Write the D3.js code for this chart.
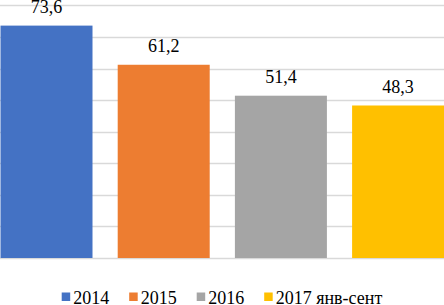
<!DOCTYPE html>
<html>
<head>
<meta charset="utf-8">
<script src="https://cdn.jsdelivr.net/npm/d3@7"></script>
<style>
  html, body { margin: 0; padding: 0; background: #fff; }
  svg { display: block; }
</style>
</head>
<body>
<div class="container"></div>
<script>
const WIDTH = 444;
const HEIGHT = 305;
const FONT = "'Liberation Serif', 'Times New Roman', serif";

// data
const categories = ["2014", "2015", "2016", "2017 янв-сент"];
const values = [73.6, 61.2, 51.4, 48.3];
const labels = ["73,6", "61,2", "51,4", "48,3"];
const gridTicks = [0, 10, 20, 30, 40, 50, 60, 70, 80];

const colors = ["#4472C4", "#ED7D31", "#A5A5A5", "#FFC000"];

const xScale = d3.scaleBand()
    .domain(categories)
    .range([-12.1, 456.7])
    .paddingInner(0.215)
    .paddingOuter(0.1075);

const yScale = d3.scaleLinear()
    .domain([0, 80])
    .range([258, 5.4]);

const svg = d3.select(".container").append("svg")
    .attr("width", WIDTH)
    .attr("height", HEIGHT);

// gridlines
svg.append("g").selectAll("line")
    .data(gridTicks)
    .enter()
    .append("line")
    .attr("x1", 0)
    .attr("x2", WIDTH)
    .attr("y1", d => Math.round(yScale(d)) + 0.5)
    .attr("y2", d => Math.round(yScale(d)) + 0.5)
    .attr("stroke", "#D9D9D9")
    .attr("stroke-width", 1.3);

// bars
svg.append("g").selectAll("rect")
    .data(categories)
    .enter()
    .append("rect")
    .attr("x", d => xScale(d))
    .attr("width", xScale.bandwidth())
    .attr("y", (d, i) => yScale(values[i]))
    .attr("height", (d, i) => yScale(0) - yScale(values[i]))
    .attr("fill", (d, i) => colors[i]);

// value labels
svg.append("g").selectAll("text")
    .data(categories)
    .enter()
    .append("text")
    .attr("x", d => xScale(d) + xScale.bandwidth() / 2)
    .attr("y", (d, i) => yScale(values[i]) - 12.5)
    .attr("text-anchor", "middle")
    .style("font-family", FONT)
    .style("font-size", "18px")
    .attr("fill", "#000")
    .text((d, i) => labels[i]);

// legend
const legend = svg.append("g");
const items = legend.selectAll("g")
    .data(categories)
    .enter()
    .append("g");

items.append("rect")
    .attr("width", 8.5)
    .attr("height", 8.5)
    .attr("y", 292.5)
    .attr("fill", (d, i) => colors[i]);

items.append("text")
    .attr("x", 11.5)
    .attr("y", 303.5)
    .style("font-family", FONT)
    .style("font-size", "18px")
    .attr("fill", "#000")
    .text(d => d);

let offsets = [];
let pos = 61.7;
items.each(function(d, i) {
    offsets.push(pos);
    const w = 11.5 + this.querySelector("text").getComputedTextLength();
    pos += w + 20;
});
items.attr("transform", (d, i) => "translate(" + offsets[i] + ",0)");
</script>
</body>
</html>
